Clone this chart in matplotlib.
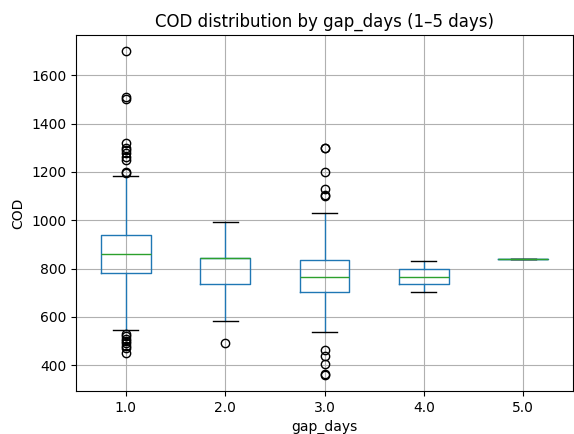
import numpy as np
import matplotlib
matplotlib.use("Agg")
import matplotlib.pyplot as plt

# values
gap_days = [1.0, 2.0, 3.0, 4.0, 5.0]
q1 = [781, 735, 704, 734, 840]
med = [862, 845, 767, 767, 840]
q3 = [940, 845, 837, 800, 840]
whislo = [544, 584, 539, 702, 840]
whishi = [1183, 992, 1030, 833, 840]
fliers = [
    [1700, 1510, 1500, 1320, 1300, 1290, 1280, 1260, 1250, 1200, 1195,
     530, 520, 510, 500, 490, 480, 470, 450],
    [493],
    [1300, 1300, 1200, 1130, 1105, 1100, 463, 436, 405, 365, 360],
    [],
    [],
]

stats = []
for i, g in enumerate(gap_days):
    stats.append({
        "label": str(g),
        "q1": q1[i], "med": med[i], "q3": q3[i],
        "whislo": whislo[i], "whishi": whishi[i],
        "fliers": np.array(fliers[i]),
    })

fig = plt.figure(figsize=(5.74, 4.34), dpi=100)
ax = fig.add_axes([76 / 574, 1 - 391 / 434, 497 / 574, 356 / 434])
ax.bxp(
    stats,
    positions=range(1, len(gap_days) + 1),
    widths=0.5,
    boxprops=dict(color="C0"),
    whiskerprops=dict(color="C0"),
    medianprops=dict(color="C2"),
    capprops=dict(color="k"),
)
ax.grid(True)
ax.set_axisbelow(True)
ax.set_title("COD distribution by gap_days (1\u20135 days)")
ax.set_xlabel("gap_days")
ax.set_ylabel("COD")
fig.savefig("out.png", dpi=100)
